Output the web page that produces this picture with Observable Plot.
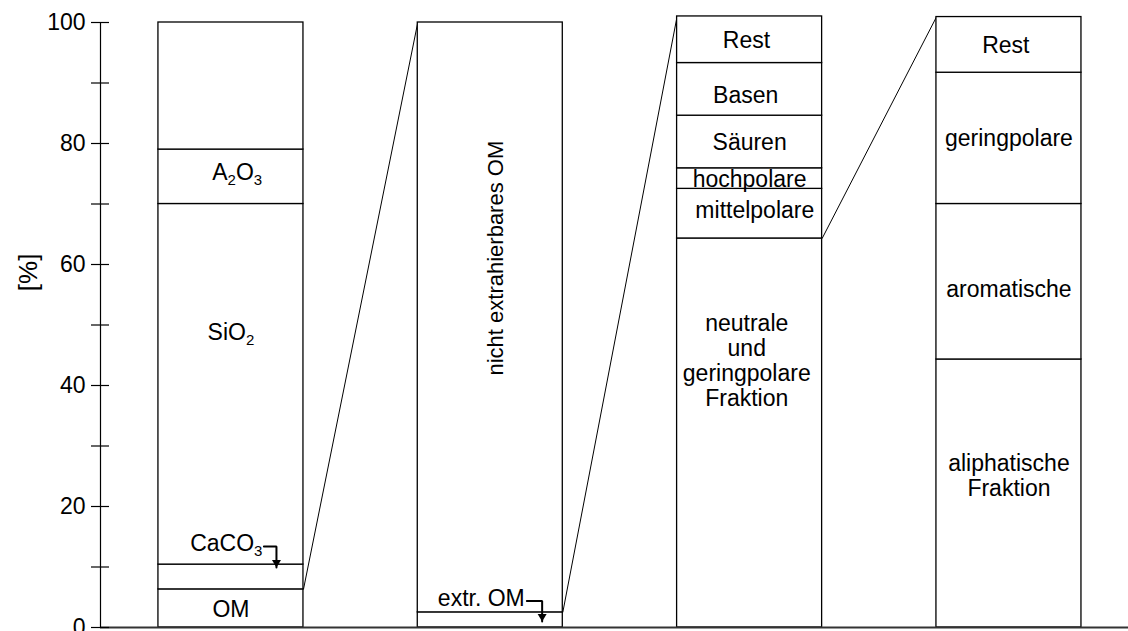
<!DOCTYPE html>
<html><head><meta charset="utf-8">
<script src="https://cdn.jsdelivr.net/npm/d3@7"></script>
<script src="https://cdn.jsdelivr.net/npm/@observablehq/plot@0.6"></script>
<style>html,body{margin:0;padding:0;background:#fff;} #chart svg{display:block}</style>
</head><body><div id="chart"></div>
<script>
// ---- data ----
const col0Labels = ["OM", "CaCO3", "SiO2", "A2O3", ""];
const col0Values = [6.3, 4.1, 59.6, 9.0, 21.0];
const col1Labels = ["extr. OM", "nicht extrahierbares OM"];
const col1Values = [2.5, 97.5];
const col2Labels = ["neutrale\nund\ngeringpolare\nFraktion", "mittelpolare", "hochpolare", "Säuren", "Basen", "Rest"];
const col2Values = [64.3, 8.2, 3.4, 8.7, 8.7, 7.7];
const col3Labels = ["aliphatische\nFraktion", "aromatische", "geringpolare", "Rest"];
const col3Values = [44.3, 25.7, 21.7, 9.2];
const yTicksMajor = [0, 20, 40, 60, 80, 100];
const yTicksMinor = [10, 30, 50, 70, 90];
const yLabel = "[%]";
// segment of column i that is broken down in column i+1
const zoomSegments = ["OM", "extr. OM", "neutrale\nund\ngeringpolare\nFraktion"];
// labels drawn outside their (thin) segment with a bent arrow
const calloutLabels = ["CaCO3", "extr. OM"];

// ---- layout ----
const hw = 0.2796;                 // half bar width (column units)
const xMin = -0.503, xMax = 3.461; // x domain
const labelShift = {"SiO2": 8.6, "nicht extrahierbares OM": 9.8, "neutrale\nund\ngeringpolare\nFraktion": 12,
  "aliphatische\nFraktion": 3, "aromatische": -1.2, "A2O3": 0.8, "Basen": -0.9, "mittelpolare": 0.6};
const labelDx = {"A2O3": 0.024, "Rest": -0.012, "Basen": -0.015, "mittelpolare": 0.02, "neutrale\nund\ngeringpolare\nFraktion": -0.011};
const calloutGeom = {
  "CaCO3":    {above: 3.4, below: 0.5, textEnd: 0.1215, start: 0.127, bx: 0.1755},
  "extr. OM": {above: 2.3, below: 1.5, textEnd: 0.133, start: 0.141, bx: 0.200}
};

const stacks = [[col0Labels, col0Values], [col1Labels, col1Values], [col2Labels, col2Values], [col3Labels, col3Values]]
  .map(([labels, values], col) => {
    let y = 0;
    return labels.map((label, k) => { const s = {col, label, y1: y, y2: y + values[k]}; y += values[k]; return s; });
  });
const segments = stacks.flat();

const connectors = zoomSegments.map((label, i) => {
  const s = stacks[i].find(d => d.label === label);
  return {x1: i + hw, y1: s.y2, x2: i + 1 - hw, y2: d3.max(stacks[i + 1], d => d.y2)};
});

const inside = segments.filter(d => d.label && !calloutLabels.includes(d.label) && d.label !== "nicht extrahierbares OM");
const rotated = segments.filter(d => d.label === "nicht extrahierbares OM");
const callouts = segments.filter(d => calloutLabels.includes(d.label)).map(d => {
  const g = calloutGeom[d.label];
  return {...d, ly: d.y2 + g.above, tip: d.y2 - g.below, ...g};
});
const calloutPaths = callouts.flatMap(c => [
  {label: c.label, x: c.col + c.start, y: c.ly - 0.4},
  {label: c.label, x: c.col + c.bx, y: c.ly - 0.4},
  {label: c.label, x: c.col + c.bx, y: c.tip}
]);
const triangleDown = {draw(ctx) { ctx.moveTo(0, 0); ctx.lineTo(-4.5, -7.5); ctx.lineTo(4.5, -7.5); ctx.closePath(); }};

const mid = d => (d.y1 + d.y2) / 2 + (labelShift[d.label] || 0);

const chart = Plot.plot({
  width: 1128, height: 631,
  marginLeft: 100, marginRight: 0, marginTop: 22, marginBottom: 4,
  x: {domain: [xMin, xMax], axis: null},
  y: {domain: [0, 100], axis: null},
  style: {fontFamily: "'Liberation Sans', Arial, sans-serif", fontSize: "23px", background: "white", color: "black"},
  marks: [
    Plot.link(connectors, {x1: "x1", y1: "y1", x2: "x2", y2: "y2", stroke: "black", strokeWidth: 1}),
    Plot.rect(segments, {x1: d => d.col - hw, x2: d => d.col + hw, y1: "y1", y2: "y2", fill: "white", stroke: "black", strokeWidth: 1.3}),
    Plot.ruleY([0], {x1: xMin, x2: xMax, stroke: "#333", strokeWidth: 2}),
    Plot.ruleX([xMin], {y1: 0, y2: 100, stroke: "black", strokeWidth: 1.2}),
    Plot.ruleY([...yTicksMajor, ...yTicksMinor], {y: d => d, x1: xMin, x2: xMin, insetLeft: -9, insetRight: -9, stroke: "black", strokeWidth: 1.2}),
    Plot.text(yTicksMajor, {x: xMin, y: d => d, text: d => String(d), textAnchor: "end", dx: -15, fontSize: 23, fill: "black"}),
    Plot.text([yLabel], {x: xMin, y: () => 58.7, text: d => d, rotate: -90, dx: -72, fontSize: 26, fill: "black"}),
    Plot.text(inside, {x: d => d.col + (labelDx[d.label] || 0), y: mid, text: "label", fontSize: 23, lineHeight: 1.1, fill: "black"}),
    Plot.text(rotated, {x: "col", y: mid, text: "label", rotate: -90, dx: 6, fontSize: 22, fill: "black"}),
    Plot.text(callouts, {x: d => d.col + d.textEnd, y: "ly", text: "label", textAnchor: "end", fontSize: 23, fill: "black"}),
    Plot.line(calloutPaths, {x: "x", y: "y", z: "label", stroke: "black", strokeWidth: 2, strokeLinejoin: "miter", curve: "linear"}),
    Plot.dot(callouts, {x: d => d.col + d.bx, y: "tip", symbol: triangleDown, fill: "black", stroke: "none", r: 3})
  ]
});

// chemical formula subscripts
chart.querySelectorAll("text").forEach(t => {
  const s = t.textContent;
  if (!/^(A2O3|SiO2|CaCO3)$/.test(s)) return;
  t.textContent = "";
  let shift = 0;
  for (const part of s.match(/\d+|\D+/g)) {
    const ts = document.createElementNS("http://www.w3.org/2000/svg", "tspan");
    ts.textContent = part;
    if (/\d/.test(part)) { ts.setAttribute("font-size", "15"); ts.setAttribute("dy", String(5 - shift)); shift = 5; }
    else { ts.setAttribute("dy", String(0 - shift)); shift = 0; }
    t.appendChild(ts);
  }
});

document.getElementById("chart").appendChild(chart);
</script>
</body></html>
